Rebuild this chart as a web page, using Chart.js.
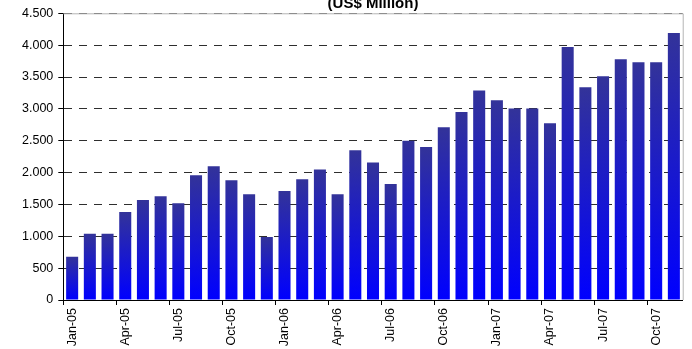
<!DOCTYPE html>
<html>
<head>
<meta charset="utf-8">
<script src="https://cdn.jsdelivr.net/npm/chart.js@4.4.1/dist/chart.umd.min.js"></script>
<style>
  html, body { margin: 0; padding: 0; background: #ffffff; }
  #c { display: block; }
</style>
</head>
<body>
<canvas id="c" width="692" height="349"></canvas>
<script>
// ---- Data ----
const categories = [
  'Jan-05','Feb-05','Mar-05','Apr-05','May-05','Jun-05','Jul-05','Aug-05','Sep-05','Oct-05','Nov-05','Dec-05',
  'Jan-06','Feb-06','Mar-06','Apr-06','May-06','Jun-06','Jul-06','Aug-06','Sep-06','Oct-06','Nov-06','Dec-06',
  'Jan-07','Feb-07','Mar-07','Apr-07','May-07','Jun-07','Jul-07','Aug-07','Sep-07','Oct-07','Nov-07'
];
const values = [
  680, 1040, 1040, 1380, 1570, 1630, 1520, 1960, 2100, 1880, 1660, 990,
  1710, 1895, 2050, 1660, 2350, 2160, 1820, 2500, 2400, 2710, 2950, 3290,
  3135, 3005, 3005, 2775, 3970, 3340, 3513, 3780, 3733, 3733, 4190
];
const xTickLabels = ['Jan-05','Apr-05','Jul-05','Oct-05','Jan-06','Apr-06','Jul-06','Oct-06','Jan-07','Apr-07','Jul-07','Oct-07'];
const yTicks = [0, 500, 1000, 1500, 2000, 2500, 3000, 3500, 4000, 4500];
const titleText = '(US$ Million)';

function fmtThousands(v) {
  const s = String(Math.round(v));
  return s.replace(/\B(?=(\d{3})+(?!\d))/g, '.');
}

const FONT = "'Liberation Sans', Arial, sans-serif";

const plotBorder = {
  id: 'plotBorder',
  beforeDatasetsDraw(chart) {
    const { ctx, chartArea: a } = chart;
    ctx.save();
    ctx.strokeStyle = '#b4b4b4';
    ctx.lineWidth = 1;
    ctx.beginPath();
    ctx.moveTo(a.left, a.top + 0.5);
    ctx.lineTo(a.right + 0.5, a.top + 0.5);
    ctx.lineTo(a.right + 0.5, a.bottom);
    ctx.stroke();
    ctx.restore();
  }
};

new Chart(document.getElementById('c'), {
  type: 'bar',
  data: {
    labels: categories,
    datasets: [{
      data: values,
      backgroundColor: (c) => {
        const chart = c.chart;
        if (c.type !== 'data' || !chart.chartArea) return '#2a2acc';
        const y = chart.scales.y;
        const top = y.getPixelForValue(c.raw);
        const bot = y.getPixelForValue(0);
        if (!isFinite(top) || !isFinite(bot) || top === bot) return '#2a2acc';
        const g = chart.ctx.createLinearGradient(0, top, 0, bot);
        g.addColorStop(0, '#333399');
        g.addColorStop(1, '#0000ff');
        return g;
      },
      borderWidth: 0,
      categoryPercentage: 1.0,
      barPercentage: 0.68
    }]
  },
  options: {
    responsive: false,
    animation: false,
    devicePixelRatio: 1,
    layout: { padding: { left: 0, right: 5.3, top: 0, bottom: 0 } },
    plugins: {
      legend: { display: false },
      tooltip: { enabled: false },
      title: {
        display: true,
        text: titleText,
        fullSize: false,
        color: '#000000',
        font: { family: FONT, size: 15, weight: 'bold', lineHeight: 1 },
        padding: { top: -3.5, bottom: 1.8 }
      }
    },
    scales: {
      x: {
        offset: true,
        afterFit: (s) => { s.height = 49; },
        grid: {
          offset: true,
          drawOnChartArea: false,
          drawTicks: true,
          tickLength: 5,
          tickColor: (c) => (c.index % 3 === 0 ? '#000000' : 'rgba(0,0,0,0)'),
          tickWidth: 1
        },
        border: { display: true, color: '#000000', width: 1 },
        ticks: {
          autoSkip: false,
          maxRotation: 90,
          minRotation: 90,
          padding: 3,
          color: '#000000',
          font: { family: FONT, size: 12.5 },
          callback: (v, i) => (xTickLabels.includes(categories[i]) ? categories[i] : '')
        }
      },
      y: {
        min: 0,
        max: 4500,
        afterFit: (s) => { s.width = 63.3; },
        afterBuildTicks: (s) => { s.ticks = yTicks.map(v => ({ value: v })); },
        grid: {
          color: '#2e2e2e',
          lineWidth: 1,
          drawTicks: true,
          tickLength: 5,
          tickColor: '#000000',
          tickBorderDash: []
        },
        border: { display: true, color: '#000000', width: 1, dash: [8, 7] },
        ticks: {
          padding: 5,
          color: '#000000',
          font: { family: FONT, size: 12.5 },
          callback: (v) => fmtThousands(v)
        }
      }
    }
  },
  plugins: [plotBorder]
});
</script>
</body>
</html>
